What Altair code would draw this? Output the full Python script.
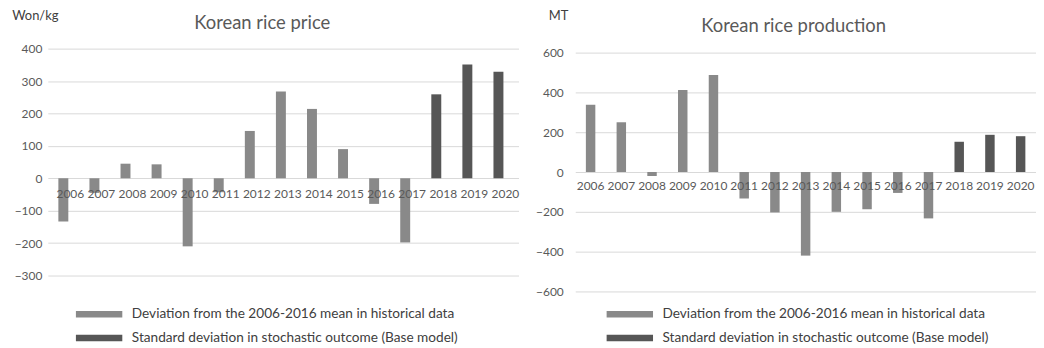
import altair as alt
import pandas as pd

years = [str(y) for y in range(2006, 2021)]
price_values = [-133, -45, 45, 43, -210, -43, 146, 268, 214, 90, -79, -198, 259, 351, 329]
production_values = [338, 250, -20, 412, 487, -133, -203, -420, -200, -187, -105, -233, 152, 187, 180]
series_names = [
    "Deviation from the 2006-2016 mean in  historical data",
    "Standard deviation in stochastic outcome (Base model)",
]
series_of_year = [series_names[0]] * 12 + [series_names[1]] * 3
series_colors = ["#898989", "#565656"]

price_ticks = [-300, -200, -100, 0, 100, 200, 300, 400]
production_ticks = [-600, -400, -200, 0, 200, 400, 600]

FONT = "Lato"
TEXT = "#595959"

price_df = pd.DataFrame({"year": years, "value": price_values, "series": series_of_year})
prod_df = pd.DataFrame({"year": years, "value": production_values, "series": series_of_year})

swatch = "M-6.66,-0.93H6.66V0.93H-6.66Z"


def panel(df, title, unit, domain, ticks, width, height, pad_outer, bar_size,
          label_pad, title_dx, title_offset, unit_x, unit_y,
          label_dx, label_dy, legend_x, legend_y):
    base = alt.Chart(df)
    xenc = alt.X("year:N", axis=None, sort=years,
                 scale=alt.Scale(paddingInner=0, paddingOuter=pad_outer, align=0))
    bars = base.mark_bar(size=bar_size).encode(
        x=xenc,
        y=alt.Y(
            "value:Q",
            scale=alt.Scale(domain=domain, nice=False, zero=True),
            axis=alt.Axis(
                values=ticks, tickCount=len(ticks),
                grid=True, gridColor="#d9d9d9", gridWidth=1,
                domain=False, ticks=False,
                labelColor=TEXT, labelFont=FONT, labelFontSize=12, labelPadding=label_pad,
                title=unit, titleAngle=0, titleAlign="left", titleBaseline="alphabetic",
                titleX=unit_x, titleY=unit_y, titleFont=FONT, titleFontSize=13,
                titleFontWeight="normal", titleColor="#404040",
            ),
        ),
        color=alt.Color(
            "series:N",
            scale=alt.Scale(domain=series_names, range=series_colors),
            legend=alt.Legend(
                title=None, orient="none", legendX=legend_x, legendY=legend_y,
                direction="vertical", symbolType=swatch, symbolSize=49,
                symbolStrokeWidth=0, labelOffset=26, rowPadding=9, padding=0,
                labelFont=FONT, labelFontSize=13.7, labelColor="#404040", labelLimit=0,
            ),
        ),
    )
    labels = base.mark_text(dx=label_dx, dy=label_dy, font=FONT, fontSize=12, color=TEXT,
                            baseline="middle").encode(
        x=xenc, y=alt.datum(0), text="year:N"
    )
    return alt.layer(bars, labels).properties(
        width=width, height=height,
        title=alt.TitleParams(title, font=FONT, fontSize=18.5, fontWeight="normal",
                              color=TEXT, anchor="middle", frame="group",
                              dx=title_dx, offset=title_offset),
    )


left = panel(price_df, "Korean rice price", "Won/kg", [-300, 400], price_ticks,
             473, 228, 0.073, 10, 6, -21, -23.5, -36.3, -29.6, 7, 16, 44.7, 260)
right = panel(prod_df, "Korean rice production", "MT", [-600, 620], production_ticks,
              463, 244, 0.0, 9.5, 12, -12, -26.7, -27, -29.6, 0, 14, 48, 260)

chart = alt.hconcat(left, right, spacing=16).resolve_scale(
    color="independent"
).resolve_legend(color="independent").properties(
    padding={"left": 3, "top": 0, "right": 0, "bottom": 0}
).configure_view(stroke=None)

chart.save("out.html", embed_options={"renderer": "svg", "actions": False})
